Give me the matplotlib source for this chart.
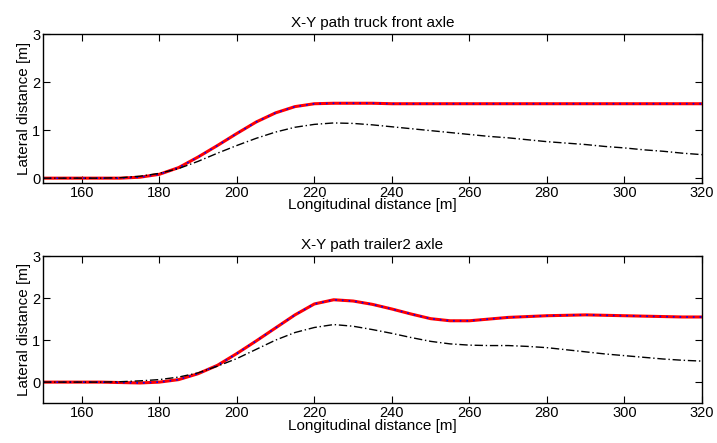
import numpy as np
import matplotlib.pyplot as plt

plt.rcParams['font.family'] = ['Liberation Sans', 'DejaVu Sans']

# longitudinal positions [m]
x = [150, 155, 160, 165, 170, 175, 180, 185, 190, 195, 200, 205, 210, 215, 220,
     225, 230, 235, 240, 245, 250, 255, 260, 265, 270, 275, 280, 285, 290, 295,
     300, 305, 310, 315, 320]

# truck front axle
front_ref = [0, 0, 0, 0, 0, 0.02, 0.08, 0.22, 0.44, 0.68, 0.93, 1.17, 1.36, 1.49, 1.55,
             1.56, 1.56, 1.56, 1.55, 1.55, 1.55, 1.55, 1.55, 1.55, 1.55, 1.55, 1.55, 1.55, 1.55, 1.55,
             1.55, 1.55, 1.55, 1.55, 1.55]
front_sim = list(front_ref)
front_act = [0, 0, 0, 0, 0.01, 0.04, 0.1, 0.2, 0.35, 0.52, 0.68, 0.83, 0.96, 1.06, 1.12,
             1.15, 1.14, 1.11, 1.07, 1.03, 0.99, 0.95, 0.91, 0.87, 0.84, 0.8, 0.76, 0.73, 0.7, 0.66,
             0.63, 0.59, 0.56, 0.52, 0.49]

# trailer2 axle
trailer_ref = [0, 0, 0, 0, -0.01, -0.02, 0.0, 0.06, 0.2, 0.4, 0.68, 0.98, 1.29, 1.6, 1.86,
               1.96, 1.93, 1.85, 1.74, 1.62, 1.51, 1.46, 1.46, 1.5, 1.54, 1.56, 1.58, 1.59, 1.6, 1.59,
               1.58, 1.57, 1.56, 1.55, 1.55]
trailer_sim = list(trailer_ref)
trailer_act = [0, 0, 0, 0, 0.01, 0.03, 0.06, 0.12, 0.22, 0.38, 0.56, 0.78, 1.0, 1.18, 1.3,
               1.37, 1.33, 1.25, 1.16, 1.06, 0.97, 0.91, 0.88, 0.87, 0.87, 0.85, 0.82, 0.77, 0.72, 0.67,
               0.63, 0.59, 0.55, 0.52, 0.5]

fig = plt.figure(figsize=(7.17, 4.43), dpi=100)
ax1 = fig.add_axes([0.060, 0.587, 0.919, 0.336])
ax2 = fig.add_axes([0.060, 0.090, 0.919, 0.332])

panels = [(ax1, front_ref, front_sim, front_act, 'X-Y path truck front axle', -0.1),
          (ax2, trailer_ref, trailer_sim, trailer_act, 'X-Y path trailer2 axle', -0.5)]

for ax, ref, sim, act, title, ymin in panels:
    ax.plot(x, ref, color='red', lw=2.2)
    ax.plot(x, sim, color='blue', lw=1.2, ls=(0, (1, 3)))
    ax.plot(x, act, color='black', lw=1.0, ls=(0, (6, 2, 1, 2)))
    ax.set_xlim(150, 320)
    ax.set_ylim(ymin, 3)
    ax.set_xticks([160, 180, 200, 220, 240, 260, 280, 300, 320])
    ax.set_yticks([0, 1, 2, 3])
    ax.tick_params(direction='in', top=True, right=True, labelsize=10.5, length=5, pad=2)
    ax.set_title(title, fontsize=11, pad=5)
    ax.set_xlabel('Longitudinal distance [m]', fontsize=11, labelpad=-1)
    ax.set_ylabel('Lateral distance [m]', fontsize=11, labelpad=1)
    for s in ax.spines.values():
        s.set_linewidth(1.0)

fig.savefig('out.png', dpi=100)
